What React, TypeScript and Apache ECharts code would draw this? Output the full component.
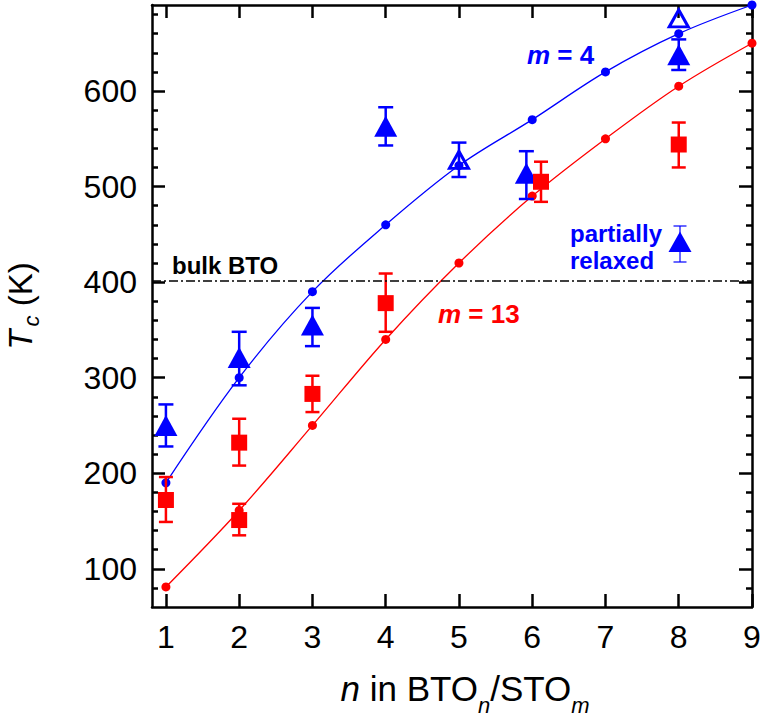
import React, { useEffect, useRef } from "react";
import * as echarts from "echarts";

// ---- data ----
const nLine = [1, 2, 3, 4, 5, 6, 7, 8, 9];
const tcM4 = [190, 300, 390, 460, 522, 570, 620, 660, 690];
const tcM13 = [81, 161, 250, 340, 420, 490, 550, 605, 650];

const triN = [1, 2, 3, 4, 5.92, 8];
const triTc = [250, 321, 355, 563, 514, 638];
const triLow = [228, 292, 333, 543, 487, 622];
const triHigh = [272, 348, 373, 583, 537, 654];

const openTriN = [5, 8];
const openTriTc = [528, 676];
const openTriErrN = [5];
const openTriLow = [510];
const openTriHigh = [546];

const sqN = [1, 2, 2, 3, 4, 6.12, 8];
const sqTc = [172, 151, 232, 283, 378, 505, 544];
const sqLow = [149, 135, 208, 264, 348, 484, 520];
const sqHigh = [196, 168, 257, 302, 409, 526, 567];

const bulkBTO = 401;

const xTicks = [1, 2, 3, 4, 5, 6, 7, 8, 9];
const yMajor = [100, 200, 300, 400, 500, 600];
const yMinor = [80, 120, 140, 160, 180, 220, 240, 260, 280, 320, 340, 360, 380, 420, 440, 460, 480, 520, 540, 560, 580, 620, 640, 660, 680];

const FONT = "'Liberation Sans', Arial, sans-serif";
const BLUE = "#0000ff";
const RED = "#ff0000";

function errorBarSeries(xs: number[], lo: number[], hi: number[], color: string, hw: number) {
  return {
    type: "custom",
    xAxisIndex: 0,
    yAxisIndex: 0,
    z: 3,
    data: xs.map((x, i) => [x, lo[i], hi[i]]),
    encode: { x: 0, y: [1, 2] },
    renderItem: (params: any, api: any) => {
      const x = api.value(0);
      const p1 = api.coord([x, api.value(1)]);
      const p2 = api.coord([x, api.value(2)]);
      const st = { stroke: color, lineWidth: 2.5 };
      return {
        type: "group",
        children: [
          { type: "line", shape: { x1: p1[0], y1: p1[1], x2: p2[0], y2: p2[1] }, style: st },
          { type: "line", shape: { x1: p1[0] - hw, y1: p1[1], x2: p1[0] + hw, y2: p1[1] }, style: st },
          { type: "line", shape: { x1: p2[0] - hw, y1: p2[1], x2: p2[0] + hw, y2: p2[1] }, style: st },
        ],
      };
    },
  };
}

export default function App() {
  const ref = useRef<HTMLDivElement>(null);
  useEffect(() => {
    if (!ref.current) return;
    const chart = echarts.init(ref.current, null, { renderer: "svg" });
    const axisLineStyle = { color: "#000", width: 2.5 };
    const baseY = {
      type: "value",
      min: 60,
      max: 690,
      splitLine: { show: false },
    };
    const baseX = {
      type: "value",
      min: 0.81,
      max: 9,
      splitLine: { show: false },
    };
    const option: any = {
      animation: false,
      backgroundColor: "#fff",
      grid: { left: 152, right: 16, top: 5, bottom: 112, containLabel: false, outerBoundsMode: "none" },
      xAxis: [
        {
          ...baseX,
          position: "bottom",
          axisLine: { show: true, onZero: false, lineStyle: axisLineStyle },
          axisTick: { show: true, inside: true, length: 13, lineStyle: axisLineStyle, customValues: xTicks },
          axisLabel: { show: true, customValues: xTicks, fontSize: 32, color: "#000", fontFamily: FONT, margin: 14 },
          name: "{i|n}{r| in BTO}{s|n}{r|/STO}{s|m}",
          nameLocation: "middle",
          nameGap: 53,
          nameTextStyle: {
            padding: [0, 0, 0, 26],
            rich: {
              i: { fontSize: 35, fontStyle: "italic", fontFamily: FONT, color: "#000" },
              r: { fontSize: 35, fontFamily: FONT, color: "#000" },
              s: { fontSize: 22, fontStyle: "italic", fontFamily: FONT, color: "#000", padding: [34, 0, 0, 0] },
            },
          },
        },
        {
          ...baseX,
          position: "top",
          axisLine: { show: true, onZero: false, lineStyle: axisLineStyle },
          axisTick: { show: true, inside: true, length: 13, lineStyle: axisLineStyle, customValues: xTicks },
          axisLabel: { show: false },
        },
      ],
      yAxis: [
        {
          ...baseY,
          position: "left",
          axisLine: { show: true, onZero: false, lineStyle: axisLineStyle },
          axisTick: { show: true, inside: true, length: 13, lineStyle: axisLineStyle, customValues: yMajor },
          axisLabel: { show: true, customValues: yMajor, fontSize: 32, color: "#000", fontFamily: FONT, margin: 15 },
          name: "{i|T}{s|c}{r| (K)}",
          nameLocation: "middle",
          nameGap: 110,
          nameTextStyle: {
            rich: {
              i: { fontSize: 33, fontStyle: "italic", fontFamily: FONT, color: "#000" },
              r: { fontSize: 33, fontFamily: FONT, color: "#000" },
              s: { fontSize: 22, fontStyle: "italic", fontFamily: FONT, color: "#000", padding: [22, 0, 0, 3] },
            },
          },
        },
        {
          ...baseY,
          position: "left",
          axisLine: { show: false },
          axisTick: { show: true, inside: true, length: 6, lineStyle: axisLineStyle, customValues: yMinor },
          axisLabel: { show: false },
        },
        {
          ...baseY,
          position: "right",
          axisLine: { show: true, onZero: false, lineStyle: axisLineStyle },
          axisTick: { show: true, inside: true, length: 13, lineStyle: axisLineStyle, customValues: yMajor },
          axisLabel: { show: false },
        },
        {
          ...baseY,
          position: "right",
          axisLine: { show: false },
          axisTick: { show: true, inside: true, length: 6, lineStyle: axisLineStyle, customValues: yMinor },
          axisLabel: { show: false },
        },
      ],
      series: [
        {
          type: "line",
          name: "m = 4",
          data: nLine.map((n, i) => [n, tcM4[i]]),
          smooth: 0.35,
          symbol: "circle",
          symbolSize: 9,
          itemStyle: { color: BLUE, opacity: 1 },
          lineStyle: { color: BLUE, width: 1.3 },
          z: 2,
          markLine: {
            silent: true,
            symbol: ["none", "none"],
            label: { show: false },
            lineStyle: { color: "#000", type: [9, 3, 2, 3], width: 1.5 },
            data: [{ yAxis: bulkBTO }],
          },
        },
        {
          type: "line",
          name: "m = 13",
          data: nLine.map((n, i) => [n, tcM13[i]]),
          smooth: 0.35,
          symbol: "circle",
          symbolSize: 9,
          itemStyle: { color: RED, opacity: 1 },
          lineStyle: { color: RED, width: 1.3 },
          z: 2,
        },
        errorBarSeries(triN, triLow, triHigh, BLUE, 7.5),
        errorBarSeries(openTriErrN, openTriLow, openTriHigh, BLUE, 7.5),
        errorBarSeries(sqN, sqLow, sqHigh, RED, 7),
        {
          type: "scatter",
          data: triN.map((n, i) => [n, triTc[i]]),
          symbol: "triangle",
          symbolSize: [23, 21],
          itemStyle: { color: BLUE, opacity: 1 },
          z: 4,
        },
        {
          type: "scatter",
          data: openTriN.map((n, i) => [n, openTriTc[i]]),
          symbol: "triangle",
          symbolSize: [19, 17],
          itemStyle: { color: "rgba(255,255,255,0)", borderColor: BLUE, borderWidth: 3, opacity: 1 },
          z: 4,
        },
        {
          type: "scatter",
          data: sqN.map((n, i) => [n, sqTc[i]]),
          symbol: "rect",
          symbolSize: 16,
          itemStyle: { color: RED, opacity: 1 },
          z: 4,
        },
      ],
      graphic: [
        {
          type: "text",
          x: 527,
          y: 55,
          style: {
            text: "{i|m}{b| = 4}",
            verticalAlign: "middle",
            rich: {
              i: { fontSize: 26, fontWeight: "bold", fontStyle: "italic", fontFamily: FONT, fill: BLUE },
              b: { fontSize: 26, fontWeight: "bold", fontFamily: FONT, fill: BLUE },
            },
          },
        },
        {
          type: "text",
          x: 438,
          y: 314,
          style: {
            text: "{i|m}{b| = 13}",
            verticalAlign: "middle",
            rich: {
              i: { fontSize: 26, fontWeight: "bold", fontStyle: "italic", fontFamily: FONT, fill: RED },
              b: { fontSize: 26, fontWeight: "bold", fontFamily: FONT, fill: RED },
            },
          },
        },
        {
          type: "text",
          x: 172,
          y: 265,
          style: { text: "bulk BTO", verticalAlign: "middle", font: `bold 24px ${FONT}`, fill: "#000" },
        },
        {
          type: "text",
          x: 570,
          y: 233,
          style: { text: "partially", verticalAlign: "middle", font: `bold 24px ${FONT}`, fill: BLUE },
        },
        {
          type: "text",
          x: 570,
          y: 260,
          style: { text: "relaxed", verticalAlign: "middle", font: `bold 24px ${FONT}`, fill: BLUE },
        },
        {
          type: "line",
          shape: { x1: 680, y1: 226, x2: 680, y2: 262 },
          style: { stroke: BLUE, lineWidth: 1.2 },
        },
        {
          type: "line",
          shape: { x1: 673.5, y1: 226, x2: 686.5, y2: 226 },
          style: { stroke: BLUE, lineWidth: 1.2 },
        },
        {
          type: "line",
          shape: { x1: 673.5, y1: 262, x2: 686.5, y2: 262 },
          style: { stroke: BLUE, lineWidth: 1.2 },
        },
        {
          type: "polygon",
          shape: { points: [[680, 231.5], [691.5, 252], [668.5, 252]] },
          style: { fill: BLUE },
        },
      ],
    };
    chart.setOption(option);
    return () => chart.dispose();
  }, []);
  return <div ref={ref} style={{ position: "absolute", left: 0, top: 0, width: 768, height: 719 }} />;
}
